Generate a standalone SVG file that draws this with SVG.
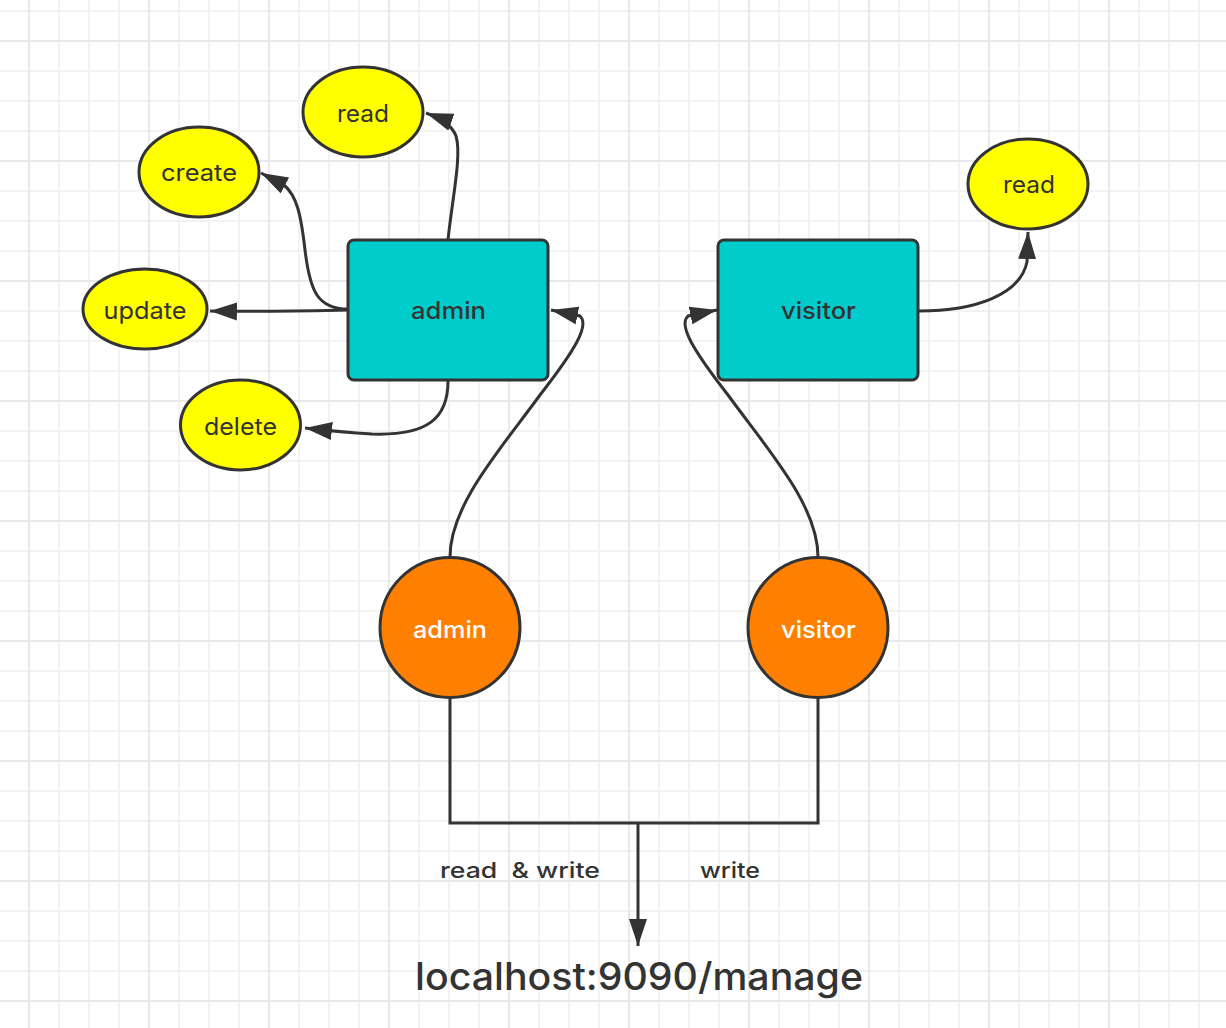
<svg xmlns="http://www.w3.org/2000/svg" width="1226" height="1028" viewBox="0 0 1226 1028">
  <defs>
    <pattern id="gridMinor" patternUnits="userSpaceOnUse" x="0" y="0" width="30" height="30">
      <path d="M29,0 V30 M0,11 H30" stroke="#f3f3f3" stroke-width="2" fill="none"/>
    </pattern>
    <pattern id="gridMajor" patternUnits="userSpaceOnUse" x="0" y="0" width="120" height="120">
      <path d="M29,0 V120 M0,41 H120" stroke="#e9e9e9" stroke-width="2" fill="none"/>
    </pattern>
    <marker id="arrow" markerUnits="userSpaceOnUse" markerWidth="30" markerHeight="20" refX="27" refY="9" orient="auto">
      <path d="M0,0 L27,9 L0,18 z" fill="#333333"/>
    </marker>
    <style>
      .op { fill: #FFFF00; stroke: #333333; stroke-width: 3; }
      .role { fill: #00CCCC; stroke: #333333; stroke-width: 3; }
      .user { fill: #FF8000; stroke: #333333; stroke-width: 3; }
      .conn { fill: none; stroke: #333333; stroke-width: 3; }
      .arr { marker-end: url(#arrow); }
      .t { font-family: Inter, "Liberation Sans", "Noto Sans", sans-serif; text-anchor: middle; fill: #333333; }
      .opt { font-size: 24px; font-weight: 400; }
      .rolet { font-size: 24px; font-weight: 500; }
      .usert { font-size: 24px; font-weight: 500; fill: #ffffff; }
      .lbl { font-size: 22px; font-weight: 500; }
      .big { font-size: 38px; font-weight: 500; }
    </style>
  </defs>

  <rect x="0" y="0" width="1226" height="1028" fill="#ffffff"/>
  <rect x="0" y="0" width="1226" height="1028" fill="url(#gridMinor)"/>
  <rect x="0" y="0" width="1226" height="1028" fill="url(#gridMajor)"/>

  <g id="connectors">
    <path class="conn arr" d="M448,240 C452,200 462,155 456,136 Q451,122 426,113"/>
    <path class="conn arr" d="M348,309 C318,309 310,292 305,250 C301,215 297,196 284,185 L261,173"/>
    <path class="conn arr" d="M348,310 C300,311 260,312 210,311"/>
    <path class="conn arr" d="M448,381 C448,418 428,436 372,434 C355,433 340,432 305,428"/>
    <path class="conn arr" d="M450,557 C450,505 500,450 540,395 C575,350 590,325 580,316 L551,310"/>
    <path class="conn arr" d="M818,557 C818,505 768,450 728,395 C693,350 678,325 688,316 L717,310"/>
    <path class="conn arr" d="M919,311 C975,311 1020,295 1027,262 L1028,232"/>
    <path class="conn" d="M450,698 L450,823 L818,823 L818,698"/>
    <path class="conn arr" d="M638,823 L638,946"/>
  </g>

  <g id="op-read-admin">
    <ellipse class="op" cx="363" cy="112" rx="60" ry="45"/>
    <text class="t opt" x="363" y="122" textLength="52" lengthAdjust="spacingAndGlyphs">read</text>
  </g>
  <g id="op-create">
    <ellipse class="op" cx="199" cy="172" rx="60" ry="45"/>
    <text class="t opt" x="199" y="181" textLength="76" lengthAdjust="spacingAndGlyphs">create</text>
  </g>
  <g id="op-update">
    <ellipse class="op" cx="145" cy="309" rx="62" ry="40"/>
    <text class="t opt" x="145" y="319" textLength="83" lengthAdjust="spacingAndGlyphs">update</text>
  </g>
  <g id="op-delete">
    <ellipse class="op" cx="240.5" cy="425" rx="60" ry="45"/>
    <text class="t opt" x="240.5" y="435" textLength="73" lengthAdjust="spacingAndGlyphs">delete</text>
  </g>
  <g id="op-read-visitor">
    <ellipse class="op" cx="1028" cy="184" rx="60" ry="45"/>
    <text class="t opt" x="1029" y="193" textLength="52" lengthAdjust="spacingAndGlyphs">read</text>
  </g>

  <g id="role-admin">
    <rect class="role" x="348" y="240" width="200" height="140" rx="6"/>
    <text class="t rolet" x="448.5" y="319" textLength="75" lengthAdjust="spacingAndGlyphs">admin</text>
  </g>
  <g id="role-visitor">
    <rect class="role" x="718" y="240" width="200" height="140" rx="6"/>
    <text class="t rolet" x="818.5" y="319" textLength="75" lengthAdjust="spacingAndGlyphs">visitor</text>
  </g>

  <g id="user-admin">
    <circle class="user" cx="450" cy="627.5" r="70"/>
    <text class="t usert" x="450" y="638" textLength="74" lengthAdjust="spacingAndGlyphs">admin</text>
  </g>
  <g id="user-visitor">
    <circle class="user" cx="818" cy="627.5" r="70"/>
    <text class="t usert" x="818.5" y="638" textLength="75" lengthAdjust="spacingAndGlyphs">visitor</text>
  </g>

  <g id="labels">
    <text class="t lbl" x="520" y="878" xml:space="preserve" textLength="160" lengthAdjust="spacingAndGlyphs">read  &amp; write</text>
    <text class="t lbl" x="730" y="878" textLength="60" lengthAdjust="spacingAndGlyphs">write</text>
  </g>

  <g id="endpoint">
    <text class="t big" x="639" y="990" textLength="448" lengthAdjust="spacingAndGlyphs">localhost:9090/manage</text>
  </g>
</svg>
